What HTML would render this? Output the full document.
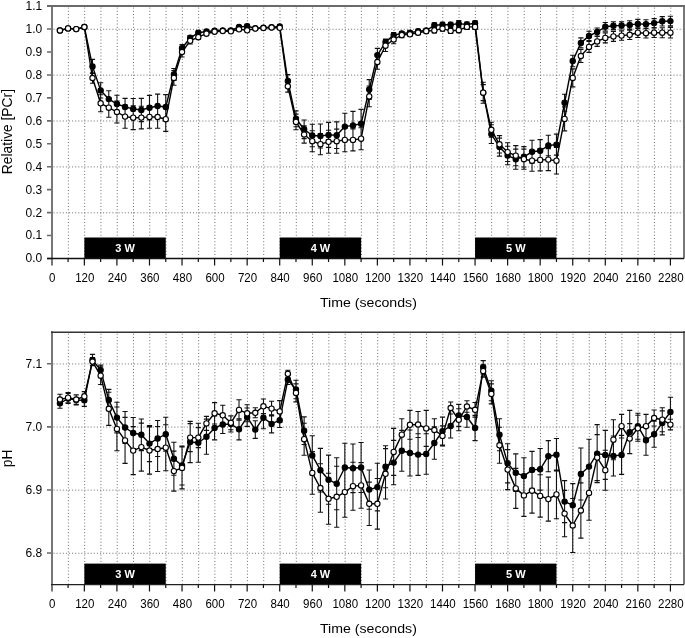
<!DOCTYPE html><html><head><meta charset="utf-8"><style>html,body{margin:0;padding:0;background:#fff;width:685px;height:638px;overflow:hidden}svg{display:block;will-change:transform;font-family:"Liberation Sans", sans-serif}</style></head><body>
<svg width="685" height="638" viewBox="0 0 685 638">
<rect width="685" height="638" fill="#fff"/>
<path d="M68.38 7.6V257.5M84.66 7.6V257.5M100.94 7.6V257.5M117.22 7.6V257.5M133.5 7.6V257.5M149.78 7.6V257.5M166.05 7.6V257.5M182.33 7.6V257.5M198.61 7.6V257.5M214.89 7.6V257.5M231.17 7.6V257.5M247.45 7.6V257.5M263.73 7.6V257.5M280.01 7.6V257.5M296.29 7.6V257.5M312.57 7.6V257.5M328.85 7.6V257.5M345.13 7.6V257.5M361.4 7.6V257.5M377.68 7.6V257.5M393.96 7.6V257.5M410.24 7.6V257.5M426.52 7.6V257.5M442.8 7.6V257.5M459.08 7.6V257.5M475.36 7.6V257.5M491.64 7.6V257.5M507.92 7.6V257.5M524.2 7.6V257.5M540.48 7.6V257.5M556.76 7.6V257.5M573.03 7.6V257.5M589.31 7.6V257.5M605.59 7.6V257.5M621.87 7.6V257.5M638.15 7.6V257.5M654.43 7.6V257.5M670.71 7.6V257.5" stroke="#6e6e6e" stroke-width="1" stroke-dasharray="1 2.2" fill="none"/>
<path d="M53.5 212.81H683M53.5 166.92H683M53.5 121.03H683M53.5 75.14H683M53.5 29.25H683" stroke="#6e6e6e" stroke-width="1" stroke-dasharray="1 2.1" fill="none"/>
<rect x="84.36" y="237.5" width="81.4" height="21" fill="#000"/>
<text x="125.06" y="252.1" font-size="11" text-anchor="middle" font-weight="bold" fill="#fff">3 W</text>
<rect x="279.71" y="237.5" width="81.4" height="21" fill="#000"/>
<text x="320.41" y="252.1" font-size="11" text-anchor="middle" font-weight="bold" fill="#fff">4 W</text>
<rect x="475.06" y="237.5" width="81.4" height="21" fill="#000"/>
<text x="515.76" y="252.1" font-size="11" text-anchor="middle" font-weight="bold" fill="#fff">5 W</text>
<path d="M47 258.5H52M47 235.55H52M47 212.61H52M47 189.66H52M47 166.72H52M47 143.77H52M47 120.83H52M47 97.88H52M47 74.94H52M47 51.99H52M47 29.05H52M47 6.1H52" stroke="#6a6a6a" stroke-width="1.6" fill="none"/>
<text transform="translate(42.3 262.4) scale(1 1)" font-size="12" text-anchor="end">0.0</text>
<text transform="translate(42.3 239.45) scale(1 1)" font-size="12" text-anchor="end">0.1</text>
<text transform="translate(42.3 216.51) scale(1 1)" font-size="12" text-anchor="end">0.2</text>
<text transform="translate(42.3 193.56) scale(1 1)" font-size="12" text-anchor="end">0.3</text>
<text transform="translate(42.3 170.62) scale(1 1)" font-size="12" text-anchor="end">0.4</text>
<text transform="translate(42.3 147.67) scale(1 1)" font-size="12" text-anchor="end">0.5</text>
<text transform="translate(42.3 124.73) scale(1 1)" font-size="12" text-anchor="end">0.6</text>
<text transform="translate(42.3 101.78) scale(1 1)" font-size="12" text-anchor="end">0.7</text>
<text transform="translate(42.3 78.84) scale(1 1)" font-size="12" text-anchor="end">0.8</text>
<text transform="translate(42.3 55.89) scale(1 1)" font-size="12" text-anchor="end">0.9</text>
<text transform="translate(42.3 32.95) scale(1 1)" font-size="12" text-anchor="end">1.0</text>
<text transform="translate(42.3 10) scale(1 1)" font-size="12" text-anchor="end">1.1</text>
<path d="M52 5.1V265.5" stroke="#777" stroke-width="2" fill="none"/>
<path d="M684 5.1V258.5" stroke="#777" stroke-width="2" fill="none"/>
<path d="M47 6.1H685" stroke="#6a6a6a" stroke-width="2" fill="none"/>
<path d="M47 258.5H684" stroke="#111" stroke-width="1.3" fill="none"/>
<path d="M84.36 258.5V265.5M116.92 258.5V265.5M149.48 258.5V265.5M182.03 258.5V265.5M214.59 258.5V265.5M247.15 258.5V265.5M279.71 258.5V265.5M312.27 258.5V265.5M344.83 258.5V265.5M377.38 258.5V265.5M409.94 258.5V265.5M442.5 258.5V265.5M475.06 258.5V265.5M507.62 258.5V265.5M540.18 258.5V265.5M572.73 258.5V265.5M605.29 258.5V265.5M637.85 258.5V265.5M670.41 258.5V265.5M68.08 258.5V262M100.64 258.5V262M133.2 258.5V262M165.75 258.5V262M198.31 258.5V262M230.87 258.5V262M263.43 258.5V262M295.99 258.5V262M328.55 258.5V262M361.1 258.5V262M393.66 258.5V262M426.22 258.5V262M458.78 258.5V262M491.34 258.5V262M523.9 258.5V262M556.46 258.5V262M589.01 258.5V262M621.57 258.5V262M654.13 258.5V262" stroke="#111" stroke-width="1.2" fill="none"/>
<text transform="translate(52.2 281.8) scale(0.96 1)" font-size="12" text-anchor="middle">0</text>
<text transform="translate(84.76 281.8) scale(0.96 1)" font-size="12" text-anchor="middle">120</text>
<text transform="translate(117.32 281.8) scale(0.96 1)" font-size="12" text-anchor="middle">240</text>
<text transform="translate(149.88 281.8) scale(0.96 1)" font-size="12" text-anchor="middle">360</text>
<text transform="translate(182.43 281.8) scale(0.96 1)" font-size="12" text-anchor="middle">480</text>
<text transform="translate(214.99 281.8) scale(0.96 1)" font-size="12" text-anchor="middle">600</text>
<text transform="translate(247.55 281.8) scale(0.96 1)" font-size="12" text-anchor="middle">720</text>
<text transform="translate(280.11 281.8) scale(0.96 1)" font-size="12" text-anchor="middle">840</text>
<text transform="translate(312.67 281.8) scale(0.96 1)" font-size="12" text-anchor="middle">960</text>
<text transform="translate(345.23 281.8) scale(0.96 1)" font-size="12" text-anchor="middle">1080</text>
<text transform="translate(377.78 281.8) scale(0.96 1)" font-size="12" text-anchor="middle">1200</text>
<text transform="translate(410.34 281.8) scale(0.96 1)" font-size="12" text-anchor="middle">1320</text>
<text transform="translate(442.9 281.8) scale(0.96 1)" font-size="12" text-anchor="middle">1440</text>
<text transform="translate(475.46 281.8) scale(0.96 1)" font-size="12" text-anchor="middle">1560</text>
<text transform="translate(508.02 281.8) scale(0.96 1)" font-size="12" text-anchor="middle">1680</text>
<text transform="translate(540.58 281.8) scale(0.96 1)" font-size="12" text-anchor="middle">1800</text>
<text transform="translate(573.13 281.8) scale(0.96 1)" font-size="12" text-anchor="middle">1920</text>
<text transform="translate(605.69 281.8) scale(0.96 1)" font-size="12" text-anchor="middle">2040</text>
<text transform="translate(638.25 281.8) scale(0.96 1)" font-size="12" text-anchor="middle">2160</text>
<text transform="translate(670.81 281.8) scale(0.96 1)" font-size="12" text-anchor="middle">2280</text>
<text transform="translate(368.4 307) scale(1.065 1)" font-size="13.3" text-anchor="middle">Time (seconds)</text>
<text x="0" y="0" font-size="13.8" text-anchor="middle" font-weight="normal" fill="#000" transform="translate(11.8 131.6) rotate(-90)">Relative [PCr]</text>
<path d="M92.5 59.4V73.4M89.9 59.4H95.1M89.9 73.4H95.1M100.64 82.8V98M98.04 82.8H103.24M98.04 98H103.24M108.78 90.8V107.4M106.18 90.8H111.38M106.18 107.4H111.38M116.92 95.3V112.5M114.32 95.3H119.52M114.32 112.5H119.52M125.06 98.4V115.6M122.46 98.4H127.66M122.46 115.6H127.66M133.2 98.5V119.3M130.6 98.5H135.8M130.6 119.3H135.8M141.34 98.4V121.6M138.74 98.4H143.94M138.74 121.6H143.94M149.48 95.4V120M146.88 95.4H152.08M146.88 120H152.08M157.61 94.1V117.9M155.01 94.1H160.21M155.01 117.9H160.21M165.75 94.6V119.4M163.15 94.6H168.35M163.15 119.4H168.35M173.89 68.5V80.5M171.29 68.5H176.49M171.29 80.5H176.49M182.03 44.6V51.8M179.43 44.6H184.63M179.43 51.8H184.63M190.17 35.5V40.1M187.57 35.5H192.77M187.57 40.1H192.77M198.31 31.1V34.5M195.71 31.1H200.91M195.71 34.5H200.91M206.45 30V33M203.85 30H209.05M203.85 33H209.05M214.59 29.3V32.3M211.99 29.3H217.19M211.99 32.3H217.19M239.01 25.5V28.5M236.41 25.5H241.61M236.41 28.5H241.61M247.15 24.4V28M244.55 24.4H249.75M244.55 28H249.75M279.71 25V28M277.11 25H282.31M277.11 28H282.31M287.85 74.6V87.2M285.25 74.6H290.45M285.25 87.2H290.45M295.99 110.9V126.7M293.39 110.9H298.59M293.39 126.7H298.59M304.13 120V138.6M301.53 120H306.73M301.53 138.6H306.73M312.27 124.3V146.7M309.67 124.3H314.87M309.67 146.7H314.87M320.41 124V148M317.81 124H323.01M317.81 148H323.01M328.55 122.4V147.4M325.95 122.4H331.15M325.95 147.4H331.15M336.69 121.9V148.5M334.09 121.9H339.29M334.09 148.5H339.29M344.83 113.3V139.9M342.23 113.3H347.43M342.23 139.9H347.43M352.97 111.4V139.4M350.37 111.4H355.57M350.37 139.4H355.57M361.1 109.4V138.2M358.5 109.4H363.7M358.5 138.2H363.7M369.24 79.6V99.4M366.64 79.6H371.84M366.64 99.4H371.84M377.38 48.4V61.8M374.78 48.4H379.98M374.78 61.8H379.98M385.52 39V45.2M382.92 39H388.12M382.92 45.2H388.12M393.66 32.6V37.6M391.06 32.6H396.26M391.06 37.6H396.26M401.8 31.5V35.5M399.2 31.5H404.4M399.2 35.5H404.4M409.94 30.7V34.7M407.34 30.7H412.54M407.34 34.7H412.54M418.08 29.2V33.2M415.48 29.2H420.68M415.48 33.2H420.68M426.22 28.5V32.5M423.62 28.5H428.82M423.62 32.5H428.82M434.36 22.8V27.8M431.76 22.8H436.96M431.76 27.8H436.96M442.5 22.3V27.3M439.9 22.3H445.1M439.9 27.3H445.1M450.64 22.2V27.2M448.04 22.2H453.24M448.04 27.2H453.24M458.78 20.6V26.6M456.18 20.6H461.38M456.18 26.6H461.38M466.92 22V27M464.32 22H469.52M464.32 27H469.52M475.06 20.7V25.7M472.46 20.7H477.66M472.46 25.7H477.66M483.2 84.6V100.6M480.6 84.6H485.8M480.6 100.6H485.8M491.34 124.7V143.5M488.74 124.7H493.94M488.74 143.5H493.94M499.48 138.1V156.1M496.88 138.1H502.08M496.88 156.1H502.08M507.62 146.3V164.7M505.02 146.3H510.22M505.02 164.7H510.22M515.76 149.1V169.3M513.16 149.1H518.36M513.16 169.3H518.36M523.9 146.6V167M521.3 146.6H526.5M521.3 167H526.5M532.04 140.3V163.3M529.44 140.3H534.64M529.44 163.3H534.64M540.18 139.6V162M537.58 139.6H542.78M537.58 162H542.78M548.32 135.2V155.8M545.72 135.2H550.92M545.72 155.8H550.92M556.46 134.1V155.1M553.86 134.1H559.06M553.86 155.1H559.06M564.59 94.3V111.3M561.99 94.3H567.19M561.99 111.3H567.19M572.73 55.2V66.8M570.13 55.2H575.33M570.13 66.8H575.33M580.87 37.9V47.9M578.27 37.9H583.47M578.27 47.9H583.47M589.01 31.2V40.6M586.41 31.2H591.61M586.41 40.6H591.61M597.15 28V36M594.55 28H599.75M594.55 36H599.75M605.29 22.5V31.1M602.69 22.5H607.89M602.69 31.1H607.89M613.43 21.8V29.6M610.83 21.8H616.03M610.83 29.6H616.03M621.57 21.8V29M618.97 21.8H624.17M618.97 29H624.17M629.71 20.7V29.1M627.11 20.7H632.31M627.11 29.1H632.31M637.85 19.4V28.4M635.25 19.4H640.45M635.25 28.4H640.45M645.99 19.7V28.7M643.39 19.7H648.59M643.39 28.7H648.59M654.13 18.6V27.6M651.53 18.6H656.73M651.53 27.6H656.73M662.27 16.6V26M659.67 16.6H664.87M659.67 26H664.87M670.41 16.3V25.9M667.81 16.3H673.01M667.81 25.9H673.01M92.5 72.7V83.3M89.9 72.7H95.1M89.9 83.3H95.1M100.64 94.8V111.8M98.04 94.8H103.24M98.04 111.8H103.24M108.78 98.1V117.3M106.18 98.1H111.38M106.18 117.3H111.38M116.92 101V123M114.32 101H119.52M114.32 123H119.52M125.06 105V128.2M122.46 105H127.66M122.46 128.2H127.66M133.2 105.8V129.6M130.6 105.8H135.8M130.6 129.6H135.8M141.34 106.3V128.9M138.74 106.3H143.94M138.74 128.9H143.94M149.48 105.6V128.2M146.88 105.6H152.08M146.88 128.2H152.08M157.61 105.8V128.2M155.01 105.8H160.21M155.01 128.2H160.21M165.75 107V131.4M163.15 107H168.35M163.15 131.4H168.35M173.89 70.6V85.2M171.29 70.6H176.49M171.29 85.2H176.49M182.03 47V57M179.43 47H184.63M179.43 57H184.63M190.17 37.6V44M187.57 37.6H192.77M187.57 44H192.77M198.31 35.2V39.2M195.71 35.2H200.91M195.71 39.2H200.91M206.45 32.2V35.2M203.85 32.2H209.05M203.85 35.2H209.05M214.59 30.2V33.2M211.99 30.2H217.19M211.99 33.2H217.19M239.01 27.8V30.8M236.41 27.8H241.61M236.41 30.8H241.61M247.15 28.8V31.8M244.55 28.8H249.75M244.55 31.8H249.75M287.85 80.5V92.1M285.25 80.5H290.45M285.25 92.1H290.45M295.99 114.1V129.7M293.39 114.1H298.59M293.39 129.7H298.59M304.13 125.9V143.1M301.53 125.9H306.73M301.53 143.1H306.73M312.27 130.7V151.7M309.67 130.7H314.87M309.67 151.7H314.87M320.41 133.6V154.8M317.81 133.6H323.01M317.81 154.8H323.01M328.55 130.3V153.3M325.95 130.3H331.15M325.95 153.3H331.15M336.69 129.1V153.3M334.09 129.1H339.29M334.09 153.3H339.29M344.83 128.1V151.7M342.23 128.1H347.43M342.23 151.7H347.43M352.97 128.9V150.9M350.37 128.9H355.57M350.37 150.9H355.57M361.1 127.7V149.7M358.5 127.7H363.7M358.5 149.7H363.7M369.24 86V106.8M366.64 86H371.84M366.64 106.8H371.84M377.38 54.8V69.2M374.78 54.8H379.98M374.78 69.2H379.98M385.52 39.9V51.5M382.92 39.9H388.12M382.92 51.5H388.12M393.66 35.3V43.7M391.06 35.3H396.26M391.06 43.7H396.26M401.8 32.6V37.6M399.2 32.6H404.4M399.2 37.6H404.4M409.94 32.3V36.3M407.34 32.3H412.54M407.34 36.3H412.54M418.08 30.7V34.7M415.48 30.7H420.68M415.48 34.7H420.68M426.22 29.2V33.2M423.62 29.2H428.82M423.62 33.2H428.82M434.36 27.9V32.9M431.76 27.9H436.96M431.76 32.9H436.96M442.5 26.1V31.1M439.9 26.1H445.1M439.9 31.1H445.1M450.64 28.4V33.4M448.04 28.4H453.24M448.04 33.4H453.24M458.78 27.7V32.7M456.18 27.7H461.38M456.18 32.7H461.38M466.92 24.4V29.4M464.32 24.4H469.52M464.32 29.4H469.52M475.06 24.4V29.4M472.46 24.4H477.66M472.46 29.4H477.66M483.2 82.2V103.2M480.6 82.2H485.8M480.6 103.2H485.8M491.34 122.3V137.3M488.74 122.3H493.94M488.74 137.3H493.94M499.48 135.6V153M496.88 135.6H502.08M496.88 153H502.08M507.62 142.7V161.5M505.02 142.7H510.22M505.02 161.5H510.22M515.76 145.6V165.8M513.16 145.6H518.36M513.16 165.8H518.36M523.9 149.1V169.3M521.3 149.1H526.5M521.3 169.3H526.5M532.04 150.2V171.2M529.44 150.2H534.64M529.44 171.2H534.64M540.18 148.9V170.9M537.58 148.9H542.78M537.58 170.9H542.78M548.32 148.6V170.6M545.72 148.6H550.92M545.72 170.6H550.92M556.46 147.4V174M553.86 147.4H559.06M553.86 174H559.06M564.59 106.9V130.9M561.99 106.9H567.19M561.99 130.9H567.19M572.73 68.9V86.9M570.13 68.9H575.33M570.13 86.9H575.33M580.87 49.5V62.5M578.27 49.5H583.47M578.27 62.5H583.47M589.01 41.4V52.4M586.41 41.4H591.61M586.41 52.4H591.61M597.15 36.4V46.4M594.55 36.4H599.75M594.55 46.4H599.75M605.29 32.9V42.9M602.69 32.9H607.89M602.69 42.9H607.89M613.43 31.4V41.4M610.83 31.4H616.03M610.83 41.4H616.03M621.57 30.9V40.3M618.97 30.9H624.17M618.97 40.3H624.17M629.71 30.1V39.5M627.11 30.1H632.31M627.11 39.5H632.31M637.85 27.9V37.5M635.25 27.9H640.45M635.25 37.5H640.45M645.99 28.4V38M643.39 28.4H648.59M643.39 38H648.59M654.13 27.9V37.5M651.53 27.9H656.73M651.53 37.5H656.73M662.27 27.7V37.7M659.67 27.7H664.87M659.67 37.7H664.87M670.41 27.4V38M667.81 27.4H673.01M667.81 38H673.01" stroke="#111" stroke-width="1.1" fill="none"/>
<path d="M59.94 30.5L68.08 28.4L76.22 29.1L84.36 27L92.5 66.4L100.64 90.4L108.78 99.1L116.92 103.9L125.06 107L133.2 108.9L141.34 110L149.48 107.7L157.61 106L165.75 107L173.89 74.5L182.03 48.2L190.17 37.8L198.31 32.8L206.45 31.5L214.59 30.8L222.73 30.5L230.87 30.5L239.01 27L247.15 26.2L255.29 28.2L263.43 27.6L271.57 27.2L279.71 26.5L287.85 80.9L295.99 118.8L304.13 129.3L312.27 135.5L320.41 136L328.55 134.9L336.69 135.2L344.83 126.6L352.97 125.4L361.1 123.8L369.24 89.5L377.38 55.1L385.52 42.1L393.66 35.1L401.8 33.5L409.94 32.7L418.08 31.2L426.22 30.5L434.36 25.3L442.5 24.8L450.64 24.7L458.78 23.6L466.92 24.5L475.06 23.2L483.2 92.6L491.34 134.1L499.48 147.1L507.62 155.5L515.76 159.2L523.9 156.8L532.04 151.8L540.18 150.8L548.32 145.5L556.46 144.6L564.59 102.8L572.73 61L580.87 42.9L589.01 35.9L597.15 32L605.29 26.8L613.43 25.7L621.57 25.4L629.71 24.9L637.85 23.9L645.99 24.2L654.13 23.1L662.27 21.3L670.41 21.1" stroke="#000" stroke-width="1.4" fill="none" stroke-linejoin="round"/>
<path d="M59.94 30.5L68.08 28.4L76.22 29.1L84.36 27L92.5 78L100.64 103.3L108.78 107.7L116.92 112L125.06 116.6L133.2 117.7L141.34 117.6L149.48 116.9L157.61 117L165.75 119.2L173.89 77.9L182.03 52L190.17 40.8L198.31 37.2L206.45 33.7L214.59 31.7L222.73 31L230.87 31.3L239.01 29.3L247.15 30.3L255.29 28.6L263.43 28L271.57 27.5L279.71 27.8L287.85 86.3L295.99 121.9L304.13 134.5L312.27 141.2L320.41 144.2L328.55 141.8L336.69 141.2L344.83 139.9L352.97 139.9L361.1 138.7L369.24 96.4L377.38 62L385.52 45.7L393.66 39.5L401.8 35.1L409.94 34.3L418.08 32.7L426.22 31.2L434.36 30.4L442.5 28.6L450.64 30.9L458.78 30.2L466.92 26.9L475.06 26.9L483.2 92.7L491.34 129.8L499.48 144.3L507.62 152.1L515.76 155.7L523.9 159.2L532.04 160.7L540.18 159.9L548.32 159.6L556.46 160.7L564.59 118.9L572.73 77.9L580.87 56L589.01 46.9L597.15 41.4L605.29 37.9L613.43 36.4L621.57 35.6L629.71 34.8L637.85 32.7L645.99 33.2L654.13 32.7L662.27 32.7L670.41 32.7" stroke="#000" stroke-width="1.4" fill="none" stroke-linejoin="round"/>
<g fill="#000" stroke="#000" stroke-width="1.1"><circle cx="59.94" cy="30.5" r="2.65"/><circle cx="68.08" cy="28.4" r="2.65"/><circle cx="76.22" cy="29.1" r="2.65"/><circle cx="84.36" cy="27" r="2.65"/><circle cx="92.5" cy="66.4" r="2.65"/><circle cx="100.64" cy="90.4" r="2.65"/><circle cx="108.78" cy="99.1" r="2.65"/><circle cx="116.92" cy="103.9" r="2.65"/><circle cx="125.06" cy="107" r="2.65"/><circle cx="133.2" cy="108.9" r="2.65"/><circle cx="141.34" cy="110" r="2.65"/><circle cx="149.48" cy="107.7" r="2.65"/><circle cx="157.61" cy="106" r="2.65"/><circle cx="165.75" cy="107" r="2.65"/><circle cx="173.89" cy="74.5" r="2.65"/><circle cx="182.03" cy="48.2" r="2.65"/><circle cx="190.17" cy="37.8" r="2.65"/><circle cx="198.31" cy="32.8" r="2.65"/><circle cx="206.45" cy="31.5" r="2.65"/><circle cx="214.59" cy="30.8" r="2.65"/><circle cx="222.73" cy="30.5" r="2.65"/><circle cx="230.87" cy="30.5" r="2.65"/><circle cx="239.01" cy="27" r="2.65"/><circle cx="247.15" cy="26.2" r="2.65"/><circle cx="255.29" cy="28.2" r="2.65"/><circle cx="263.43" cy="27.6" r="2.65"/><circle cx="271.57" cy="27.2" r="2.65"/><circle cx="279.71" cy="26.5" r="2.65"/><circle cx="287.85" cy="80.9" r="2.65"/><circle cx="295.99" cy="118.8" r="2.65"/><circle cx="304.13" cy="129.3" r="2.65"/><circle cx="312.27" cy="135.5" r="2.65"/><circle cx="320.41" cy="136" r="2.65"/><circle cx="328.55" cy="134.9" r="2.65"/><circle cx="336.69" cy="135.2" r="2.65"/><circle cx="344.83" cy="126.6" r="2.65"/><circle cx="352.97" cy="125.4" r="2.65"/><circle cx="361.1" cy="123.8" r="2.65"/><circle cx="369.24" cy="89.5" r="2.65"/><circle cx="377.38" cy="55.1" r="2.65"/><circle cx="385.52" cy="42.1" r="2.65"/><circle cx="393.66" cy="35.1" r="2.65"/><circle cx="401.8" cy="33.5" r="2.65"/><circle cx="409.94" cy="32.7" r="2.65"/><circle cx="418.08" cy="31.2" r="2.65"/><circle cx="426.22" cy="30.5" r="2.65"/><circle cx="434.36" cy="25.3" r="2.65"/><circle cx="442.5" cy="24.8" r="2.65"/><circle cx="450.64" cy="24.7" r="2.65"/><circle cx="458.78" cy="23.6" r="2.65"/><circle cx="466.92" cy="24.5" r="2.65"/><circle cx="475.06" cy="23.2" r="2.65"/><circle cx="483.2" cy="92.6" r="2.65"/><circle cx="491.34" cy="134.1" r="2.65"/><circle cx="499.48" cy="147.1" r="2.65"/><circle cx="507.62" cy="155.5" r="2.65"/><circle cx="515.76" cy="159.2" r="2.65"/><circle cx="523.9" cy="156.8" r="2.65"/><circle cx="532.04" cy="151.8" r="2.65"/><circle cx="540.18" cy="150.8" r="2.65"/><circle cx="548.32" cy="145.5" r="2.65"/><circle cx="556.46" cy="144.6" r="2.65"/><circle cx="564.59" cy="102.8" r="2.65"/><circle cx="572.73" cy="61" r="2.65"/><circle cx="580.87" cy="42.9" r="2.65"/><circle cx="589.01" cy="35.9" r="2.65"/><circle cx="597.15" cy="32" r="2.65"/><circle cx="605.29" cy="26.8" r="2.65"/><circle cx="613.43" cy="25.7" r="2.65"/><circle cx="621.57" cy="25.4" r="2.65"/><circle cx="629.71" cy="24.9" r="2.65"/><circle cx="637.85" cy="23.9" r="2.65"/><circle cx="645.99" cy="24.2" r="2.65"/><circle cx="654.13" cy="23.1" r="2.65"/><circle cx="662.27" cy="21.3" r="2.65"/><circle cx="670.41" cy="21.1" r="2.65"/></g>
<g fill="#fff" stroke="#000" stroke-width="1.1"><circle cx="59.94" cy="30.5" r="2.65"/><circle cx="68.08" cy="28.4" r="2.65"/><circle cx="76.22" cy="29.1" r="2.65"/><circle cx="84.36" cy="27" r="2.65"/><circle cx="92.5" cy="78" r="2.65"/><circle cx="100.64" cy="103.3" r="2.65"/><circle cx="108.78" cy="107.7" r="2.65"/><circle cx="116.92" cy="112" r="2.65"/><circle cx="125.06" cy="116.6" r="2.65"/><circle cx="133.2" cy="117.7" r="2.65"/><circle cx="141.34" cy="117.6" r="2.65"/><circle cx="149.48" cy="116.9" r="2.65"/><circle cx="157.61" cy="117" r="2.65"/><circle cx="165.75" cy="119.2" r="2.65"/><circle cx="173.89" cy="77.9" r="2.65"/><circle cx="182.03" cy="52" r="2.65"/><circle cx="190.17" cy="40.8" r="2.65"/><circle cx="198.31" cy="37.2" r="2.65"/><circle cx="206.45" cy="33.7" r="2.65"/><circle cx="214.59" cy="31.7" r="2.65"/><circle cx="222.73" cy="31" r="2.65"/><circle cx="230.87" cy="31.3" r="2.65"/><circle cx="239.01" cy="29.3" r="2.65"/><circle cx="247.15" cy="30.3" r="2.65"/><circle cx="255.29" cy="28.6" r="2.65"/><circle cx="263.43" cy="28" r="2.65"/><circle cx="271.57" cy="27.5" r="2.65"/><circle cx="279.71" cy="27.8" r="2.65"/><circle cx="287.85" cy="86.3" r="2.65"/><circle cx="295.99" cy="121.9" r="2.65"/><circle cx="304.13" cy="134.5" r="2.65"/><circle cx="312.27" cy="141.2" r="2.65"/><circle cx="320.41" cy="144.2" r="2.65"/><circle cx="328.55" cy="141.8" r="2.65"/><circle cx="336.69" cy="141.2" r="2.65"/><circle cx="344.83" cy="139.9" r="2.65"/><circle cx="352.97" cy="139.9" r="2.65"/><circle cx="361.1" cy="138.7" r="2.65"/><circle cx="369.24" cy="96.4" r="2.65"/><circle cx="377.38" cy="62" r="2.65"/><circle cx="385.52" cy="45.7" r="2.65"/><circle cx="393.66" cy="39.5" r="2.65"/><circle cx="401.8" cy="35.1" r="2.65"/><circle cx="409.94" cy="34.3" r="2.65"/><circle cx="418.08" cy="32.7" r="2.65"/><circle cx="426.22" cy="31.2" r="2.65"/><circle cx="434.36" cy="30.4" r="2.65"/><circle cx="442.5" cy="28.6" r="2.65"/><circle cx="450.64" cy="30.9" r="2.65"/><circle cx="458.78" cy="30.2" r="2.65"/><circle cx="466.92" cy="26.9" r="2.65"/><circle cx="475.06" cy="26.9" r="2.65"/><circle cx="483.2" cy="92.7" r="2.65"/><circle cx="491.34" cy="129.8" r="2.65"/><circle cx="499.48" cy="144.3" r="2.65"/><circle cx="507.62" cy="152.1" r="2.65"/><circle cx="515.76" cy="155.7" r="2.65"/><circle cx="523.9" cy="159.2" r="2.65"/><circle cx="532.04" cy="160.7" r="2.65"/><circle cx="540.18" cy="159.9" r="2.65"/><circle cx="548.32" cy="159.6" r="2.65"/><circle cx="556.46" cy="160.7" r="2.65"/><circle cx="564.59" cy="118.9" r="2.65"/><circle cx="572.73" cy="77.9" r="2.65"/><circle cx="580.87" cy="56" r="2.65"/><circle cx="589.01" cy="46.9" r="2.65"/><circle cx="597.15" cy="41.4" r="2.65"/><circle cx="605.29" cy="37.9" r="2.65"/><circle cx="613.43" cy="36.4" r="2.65"/><circle cx="621.57" cy="35.6" r="2.65"/><circle cx="629.71" cy="34.8" r="2.65"/><circle cx="637.85" cy="32.7" r="2.65"/><circle cx="645.99" cy="33.2" r="2.65"/><circle cx="654.13" cy="32.7" r="2.65"/><circle cx="662.27" cy="32.7" r="2.65"/><circle cx="670.41" cy="32.7" r="2.65"/></g>
<path d="M68.38 333.7V583.6M84.66 333.7V583.6M100.94 333.7V583.6M117.22 333.7V583.6M133.5 333.7V583.6M149.78 333.7V583.6M166.05 333.7V583.6M182.33 333.7V583.6M198.61 333.7V583.6M214.89 333.7V583.6M231.17 333.7V583.6M247.45 333.7V583.6M263.73 333.7V583.6M280.01 333.7V583.6M296.29 333.7V583.6M312.57 333.7V583.6M328.85 333.7V583.6M345.13 333.7V583.6M361.4 333.7V583.6M377.68 333.7V583.6M393.96 333.7V583.6M410.24 333.7V583.6M426.52 333.7V583.6M442.8 333.7V583.6M459.08 333.7V583.6M475.36 333.7V583.6M491.64 333.7V583.6M507.92 333.7V583.6M524.2 333.7V583.6M540.48 333.7V583.6M556.76 333.7V583.6M573.03 333.7V583.6M589.31 333.7V583.6M605.59 333.7V583.6M621.87 333.7V583.6M638.15 333.7V583.6M654.43 333.7V583.6M670.71 333.7V583.6" stroke="#6e6e6e" stroke-width="1" stroke-dasharray="1 2.2" fill="none"/>
<path d="M53.5 553.25H683M53.5 490.15H683M53.5 427.05H683M53.5 363.95H683" stroke="#6e6e6e" stroke-width="1" stroke-dasharray="1 2.1" fill="none"/>
<rect x="84.36" y="563.6" width="81.4" height="21" fill="#000"/>
<text x="125.06" y="578.2" font-size="11" text-anchor="middle" font-weight="bold" fill="#fff">3 W</text>
<rect x="279.71" y="563.6" width="81.4" height="21" fill="#000"/>
<text x="320.41" y="578.2" font-size="11" text-anchor="middle" font-weight="bold" fill="#fff">4 W</text>
<rect x="475.06" y="563.6" width="81.4" height="21" fill="#000"/>
<text x="515.76" y="578.2" font-size="11" text-anchor="middle" font-weight="bold" fill="#fff">5 W</text>
<path d="M47 553.05H52M47 489.95H52M47 426.85H52M47 363.75H52" stroke="#6a6a6a" stroke-width="1.6" fill="none"/>
<text transform="translate(42.3 556.95) scale(1 1)" font-size="12" text-anchor="end">6.8</text>
<text transform="translate(42.3 493.85) scale(1 1)" font-size="12" text-anchor="end">6.9</text>
<text transform="translate(42.3 430.75) scale(1 1)" font-size="12" text-anchor="end">7.0</text>
<text transform="translate(42.3 367.65) scale(1 1)" font-size="12" text-anchor="end">7.1</text>
<path d="M52 331.2V591.6" stroke="#777" stroke-width="2" fill="none"/>
<path d="M684 331.2V584.6" stroke="#777" stroke-width="2" fill="none"/>
<path d="M51 332.2H685" stroke="#333" stroke-width="1.5" fill="none"/>
<path d="M51 584.6H684" stroke="#222" stroke-width="1.3" fill="none"/>
<path d="M84.36 584.6V591.6M116.92 584.6V591.6M149.48 584.6V591.6M182.03 584.6V591.6M214.59 584.6V591.6M247.15 584.6V591.6M279.71 584.6V591.6M312.27 584.6V591.6M344.83 584.6V591.6M377.38 584.6V591.6M409.94 584.6V591.6M442.5 584.6V591.6M475.06 584.6V591.6M507.62 584.6V591.6M540.18 584.6V591.6M572.73 584.6V591.6M605.29 584.6V591.6M637.85 584.6V591.6M670.41 584.6V591.6M68.08 584.6V588.1M100.64 584.6V588.1M133.2 584.6V588.1M165.75 584.6V588.1M198.31 584.6V588.1M230.87 584.6V588.1M263.43 584.6V588.1M295.99 584.6V588.1M328.55 584.6V588.1M361.1 584.6V588.1M393.66 584.6V588.1M426.22 584.6V588.1M458.78 584.6V588.1M491.34 584.6V588.1M523.9 584.6V588.1M556.46 584.6V588.1M589.01 584.6V588.1M621.57 584.6V588.1M654.13 584.6V588.1" stroke="#111" stroke-width="1.2" fill="none"/>
<text transform="translate(52.2 607.9) scale(0.96 1)" font-size="12" text-anchor="middle">0</text>
<text transform="translate(84.76 607.9) scale(0.96 1)" font-size="12" text-anchor="middle">120</text>
<text transform="translate(117.32 607.9) scale(0.96 1)" font-size="12" text-anchor="middle">240</text>
<text transform="translate(149.88 607.9) scale(0.96 1)" font-size="12" text-anchor="middle">360</text>
<text transform="translate(182.43 607.9) scale(0.96 1)" font-size="12" text-anchor="middle">480</text>
<text transform="translate(214.99 607.9) scale(0.96 1)" font-size="12" text-anchor="middle">600</text>
<text transform="translate(247.55 607.9) scale(0.96 1)" font-size="12" text-anchor="middle">720</text>
<text transform="translate(280.11 607.9) scale(0.96 1)" font-size="12" text-anchor="middle">840</text>
<text transform="translate(312.67 607.9) scale(0.96 1)" font-size="12" text-anchor="middle">960</text>
<text transform="translate(345.23 607.9) scale(0.96 1)" font-size="12" text-anchor="middle">1080</text>
<text transform="translate(377.78 607.9) scale(0.96 1)" font-size="12" text-anchor="middle">1200</text>
<text transform="translate(410.34 607.9) scale(0.96 1)" font-size="12" text-anchor="middle">1320</text>
<text transform="translate(442.9 607.9) scale(0.96 1)" font-size="12" text-anchor="middle">1440</text>
<text transform="translate(475.46 607.9) scale(0.96 1)" font-size="12" text-anchor="middle">1560</text>
<text transform="translate(508.02 607.9) scale(0.96 1)" font-size="12" text-anchor="middle">1680</text>
<text transform="translate(540.58 607.9) scale(0.96 1)" font-size="12" text-anchor="middle">1800</text>
<text transform="translate(573.13 607.9) scale(0.96 1)" font-size="12" text-anchor="middle">1920</text>
<text transform="translate(605.69 607.9) scale(0.96 1)" font-size="12" text-anchor="middle">2040</text>
<text transform="translate(638.25 607.9) scale(0.96 1)" font-size="12" text-anchor="middle">2160</text>
<text transform="translate(670.81 607.9) scale(0.96 1)" font-size="12" text-anchor="middle">2280</text>
<text transform="translate(368.4 633.1) scale(1.065 1)" font-size="13.3" text-anchor="middle">Time (seconds)</text>
<text x="0" y="0" font-size="13.8" text-anchor="middle" font-weight="normal" fill="#000" transform="translate(11.8 458.4) rotate(-90)">pH</text>
<path d="M59.94 398.3V408.3M57.34 398.3H62.54M57.34 408.3H62.54M68.08 393.5V403.5M65.48 393.5H70.68M65.48 403.5H70.68M76.22 395V405M73.62 395H78.82M73.62 405H78.82M84.36 394V406.4M81.76 394H86.96M81.76 406.4H86.96M92.5 354.4V365.6M89.9 354.4H95.1M89.9 365.6H95.1M100.64 365.1V375.1M98.04 365.1H103.24M98.04 375.1H103.24M108.78 389.4V410.6M106.18 389.4H111.38M106.18 410.6H111.38M116.92 402.3V432.9M114.32 402.3H119.52M114.32 432.9H119.52M125.06 411.5V443.5M122.46 411.5H127.66M122.46 443.5H127.66M133.2 417.5V448.5M130.6 417.5H135.8M130.6 448.5H135.8M141.34 419V450.6M138.74 419H143.94M138.74 450.6H143.94M149.48 425.6V461.6M146.88 425.6H152.08M146.88 461.6H152.08M157.61 420.5V456.5M155.01 420.5H160.21M155.01 456.5H160.21M165.75 417.2V451.2M163.15 417.2H168.35M163.15 451.2H168.35M173.89 442.3V475.3M171.29 442.3H176.49M171.29 475.3H176.49M182.03 446V485M179.43 446H184.63M179.43 485H184.63M190.17 421.4V462.6M187.57 421.4H192.77M187.57 462.6H192.77M198.31 423.2V462.2M195.71 423.2H200.91M195.71 462.2H200.91M206.45 419.1V454.3M203.85 419.1H209.05M203.85 454.3H209.05M214.59 415.9V439.9M211.99 415.9H217.19M211.99 439.9H217.19M222.73 415.5V433.5M220.13 415.5H225.33M220.13 433.5H225.33M230.87 416V432M228.27 416H233.47M228.27 432H233.47M239.01 418.7V439.9M236.41 418.7H241.61M236.41 439.9H241.61M247.15 408V426.4M244.55 408H249.75M244.55 426.4H249.75M255.29 420.8V438.4M252.69 420.8H257.89M252.69 438.4H257.89M263.43 406.7V428.7M260.83 406.7H266.03M260.83 428.7H266.03M271.57 414.9V432.9M268.97 414.9H274.17M268.97 432.9H274.17M279.71 412.9V427.5M277.11 412.9H282.31M277.11 427.5H282.31M287.85 375.1V384.5M285.25 375.1H290.45M285.25 384.5H290.45M295.99 380.2V398.8M293.39 380.2H298.59M293.39 398.8H298.59M304.13 416.9V444.5M301.53 416.9H306.73M301.53 444.5H306.73M312.27 435.8V475M309.67 435.8H314.87M309.67 475H314.87M320.41 448.4V492M317.81 448.4H323.01M317.81 492H323.01M328.55 455.1V504.3M325.95 455.1H331.15M325.95 504.3H331.15M336.69 457.8V509.8M334.09 457.8H339.29M334.09 509.8H339.29M344.83 443.2V491.8M342.23 443.2H347.43M342.23 491.8H347.43M352.97 444V492.6M350.37 444H355.57M350.37 492.6H355.57M361.1 442.5V492.5M358.5 442.5H363.7M358.5 492.5H363.7M369.24 470V509.2M366.64 470H371.84M366.64 509.2H371.84M377.38 463.3V510.9M374.78 463.3H379.98M374.78 510.9H379.98M385.52 445.7V487.7M382.92 445.7H388.12M382.92 487.7H388.12M393.66 440.4V484.8M391.06 440.4H396.26M391.06 484.8H396.26M401.8 430.4V471.2M399.2 430.4H404.4M399.2 471.2H404.4M409.94 430V476M407.34 430H412.54M407.34 476H412.54M418.08 433.8V475.4M415.48 433.8H420.68M415.48 475.4H420.68M426.22 433.7V474.3M423.62 433.7H428.82M423.62 474.3H428.82M434.36 426.7V459.3M431.76 426.7H436.96M431.76 459.3H436.96M442.5 417.1V445.1M439.9 417.1H445.1M439.9 445.1H445.1M450.64 414V438M448.04 414H453.24M448.04 438H453.24M458.78 404.4V426.4M456.18 404.4H461.38M456.18 426.4H461.38M466.92 406.8V427.2M464.32 406.8H469.52M464.32 427.2H469.52M475.06 415.4V440.6M472.46 415.4H477.66M472.46 440.6H477.66M483.2 360.6V374M480.6 360.6H485.8M480.6 374H485.8M491.34 380.7V400.7M488.74 380.7H493.94M488.74 400.7H493.94M499.48 418.7V450.7M496.88 418.7H502.08M496.88 450.7H502.08M507.62 443.7V482.9M505.02 443.7H510.22M505.02 482.9H510.22M515.76 453.9V491.5M513.16 453.9H518.36M513.16 491.5H518.36M523.9 457.8V494.4M521.3 457.8H526.5M521.3 494.4H526.5M532.04 451.4V488.4M529.44 451.4H534.64M529.44 488.4H534.64M540.18 448.5V490.1M537.58 448.5H542.78M537.58 490.1H542.78M548.32 440.6V471.8M545.72 440.6H550.92M545.72 471.8H550.92M556.46 438.5V470.9M553.86 438.5H559.06M553.86 470.9H559.06M564.59 480.6V522.6M561.99 480.6H567.19M561.99 522.6H567.19M572.73 483.6V526.8M570.13 483.6H575.33M570.13 526.8H575.33M580.87 448V500M578.27 448H583.47M578.27 500H583.47M589.01 439.2V494M586.41 439.2H591.61M586.41 494H591.61M597.15 424.6V482.6M594.55 424.6H599.75M594.55 482.6H599.75M605.29 430.4V479.4M602.69 430.4H607.89M602.69 479.4H607.89M613.43 436V476M610.83 436H616.03M610.83 476H616.03M621.57 435.4V474.4M618.97 435.4H624.17M618.97 474.4H624.17M629.71 410.4V453.8M627.11 410.4H632.31M627.11 453.8H632.31M637.85 413.2V439.2M635.25 413.2H640.45M635.25 439.2H640.45M645.99 425.2V455.2M643.39 425.2H648.59M643.39 455.2H648.59M654.13 421.3V447.3M651.53 421.3H656.73M651.53 447.3H656.73M662.27 410.9V434.9M659.67 410.9H664.87M659.67 434.9H664.87M670.41 397.3V426.7M667.81 397.3H673.01M667.81 426.7H673.01M59.94 394.3V404.7M57.34 394.3H62.54M57.34 404.7H62.54M68.08 392.6V402.8M65.48 392.6H70.68M65.48 402.8H70.68M76.22 394.8V404.2M73.62 394.8H78.82M73.62 404.2H78.82M84.36 391.6V401.2M81.76 391.6H86.96M81.76 401.2H86.96M92.5 357.6V365.6M89.9 357.6H95.1M89.9 365.6H95.1M100.64 366.9V384.5M98.04 366.9H103.24M98.04 384.5H103.24M108.78 392.2V425.4M106.18 392.2H111.38M106.18 425.4H111.38M116.92 407V450.8M114.32 407H119.52M114.32 450.8H119.52M125.06 417.4V463.4M122.46 417.4H127.66M122.46 463.4H127.66M133.2 426.6V474.6M130.6 426.6H135.8M130.6 474.6H135.8M141.34 423.1V471.1M138.74 423.1H143.94M138.74 471.1H143.94M149.48 426.9V474.1M146.88 426.9H152.08M146.88 474.1H152.08M157.61 426.5V471.5M155.01 426.5H160.21M155.01 471.5H160.21M165.75 424.7V470.7M163.15 424.7H168.35M163.15 470.7H168.35M173.89 451.1V491.1M171.29 451.1H176.49M171.29 491.1H176.49M182.03 446.9V488.9M179.43 446.9H184.63M179.43 488.9H184.63M190.17 423.6V451.6M187.57 423.6H192.77M187.57 451.6H192.77M198.31 427.6V447.6M195.71 427.6H200.91M195.71 447.6H200.91M206.45 416.4V430.4M203.85 416.4H209.05M203.85 430.4H209.05M214.59 402.6V424M211.99 402.6H217.19M211.99 424H217.19M222.73 405.3V425.3M220.13 405.3H225.33M220.13 425.3H225.33M230.87 415.8V429.8M228.27 415.8H233.47M228.27 429.8H233.47M239.01 399.7V420.1M236.41 399.7H241.61M236.41 420.1H241.61M247.15 404.8V421.8M244.55 404.8H249.75M244.55 421.8H249.75M255.29 407.8V417.8M252.69 407.8H257.89M252.69 417.8H257.89M263.43 399V413.6M260.83 399H266.03M260.83 413.6H266.03M271.57 401.3V415.9M268.97 401.3H274.17M268.97 415.9H274.17M279.71 400.6V422.2M277.11 400.6H282.31M277.11 422.2H282.31M287.85 370.3V377.3M285.25 370.3H290.45M285.25 377.3H290.45M295.99 383.9V401.9M293.39 383.9H298.59M293.39 401.9H298.59M304.13 423.2V455.2M301.53 423.2H306.73M301.53 455.2H306.73M312.27 451.6V494.2M309.67 451.6H314.87M309.67 494.2H314.87M320.41 463.8V512.2M317.81 463.8H323.01M317.81 512.2H323.01M328.55 473.3V524.3M325.95 473.3H331.15M325.95 524.3H331.15M336.69 466.3V527.3M334.09 466.3H339.29M334.09 527.3H339.29M344.83 466.9V517.3M342.23 466.9H347.43M342.23 517.3H347.43M352.97 462.2V510.2M350.37 462.2H355.57M350.37 510.2H355.57M361.1 462.6V508.2M358.5 462.6H363.7M358.5 508.2H363.7M369.24 482.1V525.5M366.64 482.1H371.84M366.64 525.5H371.84M377.38 478.5V529.1M374.78 478.5H379.98M374.78 529.1H379.98M385.52 448.6V499M382.92 448.6H388.12M382.92 499H388.12M393.66 428.4V475.4M391.06 428.4H396.26M391.06 475.4H396.26M401.8 418.7V450.7M399.2 418.7H404.4M399.2 450.7H404.4M409.94 410.4V439.2M407.34 410.4H412.54M407.34 439.2H412.54M418.08 411.5V437.5M415.48 411.5H420.68M415.48 437.5H420.68M426.22 410.4V446.4M423.62 410.4H428.82M423.62 446.4H428.82M434.36 418.7V441.3M431.76 418.7H436.96M431.76 441.3H436.96M442.5 425.9V445.9M439.9 425.9H445.1M439.9 445.9H445.1M450.64 402V414M448.04 402H453.24M448.04 414H453.24M458.78 408.8V430.8M456.18 408.8H461.38M456.18 430.8H461.38M466.92 400.7V412.3M464.32 400.7H469.52M464.32 412.3H469.52M475.06 402.5V417.1M472.46 402.5H477.66M472.46 417.1H477.66M483.2 365.1V377.1M480.6 365.1H485.8M480.6 377.1H485.8M491.34 383.9V403.9M488.74 383.9H493.94M488.74 403.9H493.94M499.48 427.3V463.3M496.88 427.3H502.08M496.88 463.3H502.08M507.62 449.6V489.6M505.02 449.6H510.22M505.02 489.6H510.22M515.76 468.4V508.4M513.16 468.4H518.36M513.16 508.4H518.36M523.9 474.4V516.4M521.3 474.4H526.5M521.3 516.4H526.5M532.04 468.3V513.1M529.44 468.3H534.64M529.44 513.1H534.64M540.18 474.7V517.1M537.58 474.7H542.78M537.58 517.1H542.78M548.32 477.1V521.1M545.72 477.1H550.92M545.72 521.1H550.92M556.46 470V518.8M553.86 470H559.06M553.86 518.8H559.06M564.59 490.4V536.8M561.99 490.4H567.19M561.99 536.8H567.19M572.73 498.5V552.5M570.13 498.5H575.33M570.13 552.5H575.33M580.87 482.9V538.1M578.27 482.9H583.47M578.27 538.1H583.47M589.01 465.5V520.3M586.41 465.5H591.61M586.41 520.3H591.61M597.15 434.6V480.6M594.55 434.6H599.75M594.55 480.6H599.75M605.29 450.2V490.2M602.69 450.2H607.89M602.69 490.2H607.89M613.43 419.7V459.7M610.83 419.7H616.03M610.83 459.7H616.03M621.57 414.4V438M618.97 414.4H624.17M618.97 438H624.17M629.71 423.6V453.6M627.11 423.6H632.31M627.11 453.6H632.31M637.85 415.3V441.3M635.25 415.3H640.45M635.25 441.3H640.45M645.99 414.4V438M643.39 414.4H648.59M643.39 438H648.59M654.13 410V426M651.53 410H656.73M651.53 426H656.73M662.27 407.7V431.7M659.67 407.7H664.87M659.67 431.7H664.87M670.41 419.3V429.9M667.81 419.3H673.01M667.81 429.9H673.01" stroke="#111" stroke-width="1.1" fill="none"/>
<path d="M59.94 403.3L68.08 398.5L76.22 400L84.36 400.2L92.5 360L100.64 370.1L108.78 400L116.92 417.6L125.06 427.5L133.2 433L141.34 434.8L149.48 443.6L157.61 438.5L165.75 434.2L173.89 458.8L182.03 465.5L190.17 442L198.31 442.7L206.45 436.7L214.59 427.9L222.73 424.5L230.87 424L239.01 429.3L247.15 417.2L255.29 429.6L263.43 417.7L271.57 423.9L279.71 420.2L287.85 379.8L295.99 389.5L304.13 430.7L312.27 455.4L320.41 470.2L328.55 479.7L336.69 483.8L344.83 467.5L352.97 468.3L361.1 467.5L369.24 489.6L377.38 487.1L385.52 466.7L393.66 462.6L401.8 450.8L409.94 453L418.08 454.6L426.22 454L434.36 443L442.5 431.1L450.64 426L458.78 415.4L466.92 417L475.06 428L483.2 367.3L491.34 390.7L499.48 434.7L507.62 463.3L515.76 472.7L523.9 476.1L532.04 469.9L540.18 469.3L548.32 456.2L556.46 454.7L564.59 501.6L572.73 505.2L580.87 474L589.01 466.6L597.15 453.6L605.29 454.9L613.43 456L621.57 454.9L629.71 432.1L637.85 426.2L645.99 440.2L654.13 434.3L662.27 422.9L670.41 412" stroke="#000" stroke-width="1.4" fill="none" stroke-linejoin="round"/>
<path d="M59.94 399.5L68.08 397.7L76.22 399.5L84.36 396.4L92.5 361.6L100.64 375.7L108.78 408.8L116.92 428.9L125.06 440.4L133.2 450.6L141.34 447.1L149.48 450.5L157.61 449L165.75 447.7L173.89 471.1L182.03 467.9L190.17 437.6L198.31 437.6L206.45 423.4L214.59 413.3L222.73 415.3L230.87 422.8L239.01 409.9L247.15 413.3L255.29 412.8L263.43 406.3L271.57 408.6L279.71 411.4L287.85 373.8L295.99 392.9L304.13 439.2L312.27 472.9L320.41 488L328.55 498.8L336.69 496.8L344.83 492.1L352.97 486.2L361.1 485.4L369.24 503.8L377.38 503.8L385.52 473.8L393.66 451.9L401.8 434.7L409.94 424.8L418.08 424.5L426.22 428.4L434.36 430L442.5 435.9L450.64 408L458.78 419.8L466.92 406.5L475.06 409.8L483.2 371.1L491.34 393.9L499.48 445.3L507.62 469.6L515.76 488.4L523.9 495.4L532.04 490.7L540.18 495.9L548.32 499.1L556.46 494.4L564.59 513.6L572.73 525.5L580.87 510.5L589.01 492.9L597.15 457.6L605.29 470.2L613.43 439.7L621.57 426.2L629.71 438.6L637.85 428.3L645.99 426.2L654.13 418L662.27 419.7L670.41 424.6" stroke="#000" stroke-width="1.4" fill="none" stroke-linejoin="round"/>
<g fill="#000" stroke="#000" stroke-width="1.1"><circle cx="59.94" cy="403.3" r="2.65"/><circle cx="68.08" cy="398.5" r="2.65"/><circle cx="76.22" cy="400" r="2.65"/><circle cx="84.36" cy="400.2" r="2.65"/><circle cx="92.5" cy="360" r="2.65"/><circle cx="100.64" cy="370.1" r="2.65"/><circle cx="108.78" cy="400" r="2.65"/><circle cx="116.92" cy="417.6" r="2.65"/><circle cx="125.06" cy="427.5" r="2.65"/><circle cx="133.2" cy="433" r="2.65"/><circle cx="141.34" cy="434.8" r="2.65"/><circle cx="149.48" cy="443.6" r="2.65"/><circle cx="157.61" cy="438.5" r="2.65"/><circle cx="165.75" cy="434.2" r="2.65"/><circle cx="173.89" cy="458.8" r="2.65"/><circle cx="182.03" cy="465.5" r="2.65"/><circle cx="190.17" cy="442" r="2.65"/><circle cx="198.31" cy="442.7" r="2.65"/><circle cx="206.45" cy="436.7" r="2.65"/><circle cx="214.59" cy="427.9" r="2.65"/><circle cx="222.73" cy="424.5" r="2.65"/><circle cx="230.87" cy="424" r="2.65"/><circle cx="239.01" cy="429.3" r="2.65"/><circle cx="247.15" cy="417.2" r="2.65"/><circle cx="255.29" cy="429.6" r="2.65"/><circle cx="263.43" cy="417.7" r="2.65"/><circle cx="271.57" cy="423.9" r="2.65"/><circle cx="279.71" cy="420.2" r="2.65"/><circle cx="287.85" cy="379.8" r="2.65"/><circle cx="295.99" cy="389.5" r="2.65"/><circle cx="304.13" cy="430.7" r="2.65"/><circle cx="312.27" cy="455.4" r="2.65"/><circle cx="320.41" cy="470.2" r="2.65"/><circle cx="328.55" cy="479.7" r="2.65"/><circle cx="336.69" cy="483.8" r="2.65"/><circle cx="344.83" cy="467.5" r="2.65"/><circle cx="352.97" cy="468.3" r="2.65"/><circle cx="361.1" cy="467.5" r="2.65"/><circle cx="369.24" cy="489.6" r="2.65"/><circle cx="377.38" cy="487.1" r="2.65"/><circle cx="385.52" cy="466.7" r="2.65"/><circle cx="393.66" cy="462.6" r="2.65"/><circle cx="401.8" cy="450.8" r="2.65"/><circle cx="409.94" cy="453" r="2.65"/><circle cx="418.08" cy="454.6" r="2.65"/><circle cx="426.22" cy="454" r="2.65"/><circle cx="434.36" cy="443" r="2.65"/><circle cx="442.5" cy="431.1" r="2.65"/><circle cx="450.64" cy="426" r="2.65"/><circle cx="458.78" cy="415.4" r="2.65"/><circle cx="466.92" cy="417" r="2.65"/><circle cx="475.06" cy="428" r="2.65"/><circle cx="483.2" cy="367.3" r="2.65"/><circle cx="491.34" cy="390.7" r="2.65"/><circle cx="499.48" cy="434.7" r="2.65"/><circle cx="507.62" cy="463.3" r="2.65"/><circle cx="515.76" cy="472.7" r="2.65"/><circle cx="523.9" cy="476.1" r="2.65"/><circle cx="532.04" cy="469.9" r="2.65"/><circle cx="540.18" cy="469.3" r="2.65"/><circle cx="548.32" cy="456.2" r="2.65"/><circle cx="556.46" cy="454.7" r="2.65"/><circle cx="564.59" cy="501.6" r="2.65"/><circle cx="572.73" cy="505.2" r="2.65"/><circle cx="580.87" cy="474" r="2.65"/><circle cx="589.01" cy="466.6" r="2.65"/><circle cx="597.15" cy="453.6" r="2.65"/><circle cx="605.29" cy="454.9" r="2.65"/><circle cx="613.43" cy="456" r="2.65"/><circle cx="621.57" cy="454.9" r="2.65"/><circle cx="629.71" cy="432.1" r="2.65"/><circle cx="637.85" cy="426.2" r="2.65"/><circle cx="645.99" cy="440.2" r="2.65"/><circle cx="654.13" cy="434.3" r="2.65"/><circle cx="662.27" cy="422.9" r="2.65"/><circle cx="670.41" cy="412" r="2.65"/></g>
<g fill="#fff" stroke="#000" stroke-width="1.1"><circle cx="59.94" cy="399.5" r="2.65"/><circle cx="68.08" cy="397.7" r="2.65"/><circle cx="76.22" cy="399.5" r="2.65"/><circle cx="84.36" cy="396.4" r="2.65"/><circle cx="92.5" cy="361.6" r="2.65"/><circle cx="100.64" cy="375.7" r="2.65"/><circle cx="108.78" cy="408.8" r="2.65"/><circle cx="116.92" cy="428.9" r="2.65"/><circle cx="125.06" cy="440.4" r="2.65"/><circle cx="133.2" cy="450.6" r="2.65"/><circle cx="141.34" cy="447.1" r="2.65"/><circle cx="149.48" cy="450.5" r="2.65"/><circle cx="157.61" cy="449" r="2.65"/><circle cx="165.75" cy="447.7" r="2.65"/><circle cx="173.89" cy="471.1" r="2.65"/><circle cx="182.03" cy="467.9" r="2.65"/><circle cx="190.17" cy="437.6" r="2.65"/><circle cx="198.31" cy="437.6" r="2.65"/><circle cx="206.45" cy="423.4" r="2.65"/><circle cx="214.59" cy="413.3" r="2.65"/><circle cx="222.73" cy="415.3" r="2.65"/><circle cx="230.87" cy="422.8" r="2.65"/><circle cx="239.01" cy="409.9" r="2.65"/><circle cx="247.15" cy="413.3" r="2.65"/><circle cx="255.29" cy="412.8" r="2.65"/><circle cx="263.43" cy="406.3" r="2.65"/><circle cx="271.57" cy="408.6" r="2.65"/><circle cx="279.71" cy="411.4" r="2.65"/><circle cx="287.85" cy="373.8" r="2.65"/><circle cx="295.99" cy="392.9" r="2.65"/><circle cx="304.13" cy="439.2" r="2.65"/><circle cx="312.27" cy="472.9" r="2.65"/><circle cx="320.41" cy="488" r="2.65"/><circle cx="328.55" cy="498.8" r="2.65"/><circle cx="336.69" cy="496.8" r="2.65"/><circle cx="344.83" cy="492.1" r="2.65"/><circle cx="352.97" cy="486.2" r="2.65"/><circle cx="361.1" cy="485.4" r="2.65"/><circle cx="369.24" cy="503.8" r="2.65"/><circle cx="377.38" cy="503.8" r="2.65"/><circle cx="385.52" cy="473.8" r="2.65"/><circle cx="393.66" cy="451.9" r="2.65"/><circle cx="401.8" cy="434.7" r="2.65"/><circle cx="409.94" cy="424.8" r="2.65"/><circle cx="418.08" cy="424.5" r="2.65"/><circle cx="426.22" cy="428.4" r="2.65"/><circle cx="434.36" cy="430" r="2.65"/><circle cx="442.5" cy="435.9" r="2.65"/><circle cx="450.64" cy="408" r="2.65"/><circle cx="458.78" cy="419.8" r="2.65"/><circle cx="466.92" cy="406.5" r="2.65"/><circle cx="475.06" cy="409.8" r="2.65"/><circle cx="483.2" cy="371.1" r="2.65"/><circle cx="491.34" cy="393.9" r="2.65"/><circle cx="499.48" cy="445.3" r="2.65"/><circle cx="507.62" cy="469.6" r="2.65"/><circle cx="515.76" cy="488.4" r="2.65"/><circle cx="523.9" cy="495.4" r="2.65"/><circle cx="532.04" cy="490.7" r="2.65"/><circle cx="540.18" cy="495.9" r="2.65"/><circle cx="548.32" cy="499.1" r="2.65"/><circle cx="556.46" cy="494.4" r="2.65"/><circle cx="564.59" cy="513.6" r="2.65"/><circle cx="572.73" cy="525.5" r="2.65"/><circle cx="580.87" cy="510.5" r="2.65"/><circle cx="589.01" cy="492.9" r="2.65"/><circle cx="597.15" cy="457.6" r="2.65"/><circle cx="605.29" cy="470.2" r="2.65"/><circle cx="613.43" cy="439.7" r="2.65"/><circle cx="621.57" cy="426.2" r="2.65"/><circle cx="629.71" cy="438.6" r="2.65"/><circle cx="637.85" cy="428.3" r="2.65"/><circle cx="645.99" cy="426.2" r="2.65"/><circle cx="654.13" cy="418" r="2.65"/><circle cx="662.27" cy="419.7" r="2.65"/><circle cx="670.41" cy="424.6" r="2.65"/></g>
</svg></body></html>
